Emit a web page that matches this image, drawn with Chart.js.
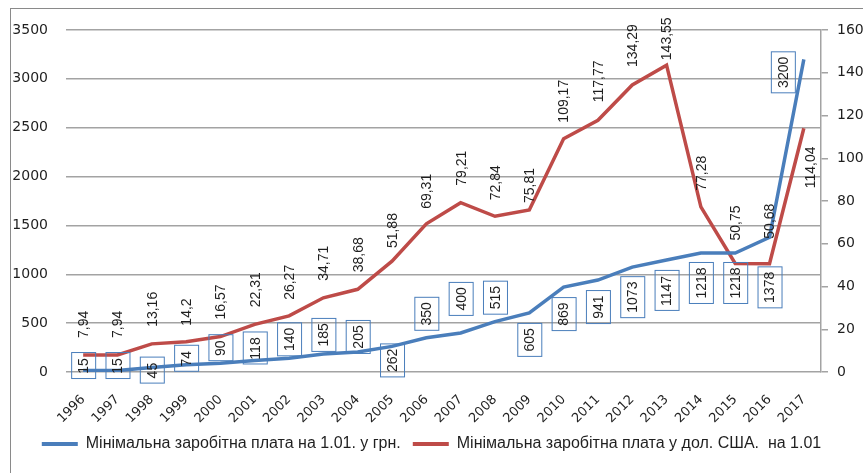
<!DOCTYPE html>
<html>
<head>
<meta charset="utf-8">
<script src="https://cdn.jsdelivr.net/npm/chart.js@4/dist/chart.umd.min.js"></script>
<style>
html,body{margin:0;padding:0;background:#fff;overflow:hidden}
#wrap{width:863px;height:473px;position:relative}
</style>
</head>
<body>
<div id="wrap"><canvas id="c" width="863" height="473"></canvas></div>
<script>
// ---- data ----
const years = ['1996','1997','1998','1999','2000','2001','2002','2003','2004','2005','2006','2007','2008','2009','2010','2011','2012','2013','2014','2015','2016','2017'];
const wageUAH = [15,15,45,74,90,118,140,185,205,262,350,400,515,605,869,941,1073,1147,1218,1218,1378,3200];
const wageUSD = [7.94,7.94,13.16,14.2,16.57,22.31,26.27,34.71,38.68,51.88,69.31,79.21,72.84,75.81,109.17,117.77,134.29,143.55,77.28,50.75,50.68,114.04];
const seriesNames = ['Мінімальна заробітна плата на 1.01. у грн.', 'Мінімальна заробітна плата у дол. США.  на 1.01'];
const leftAxisMax = 3500, leftAxisStep = 500;
const rightAxisMax = 160, rightAxisStep = 20;

const BLUE = '#4A7EBB', RED = '#BE4B48', GRID = '#a3a3a3', TEXT = '#1f1f1f';

const framePlugin = {
  id: 'frame',
  beforeDraw(chart) {
    const ctx = chart.ctx;
    ctx.save();
    ctx.fillStyle = '#fff';
    ctx.fillRect(0, 0, chart.width, chart.height);
    ctx.strokeStyle = '#8a8a8a';
    ctx.lineWidth = 1;
    ctx.strokeRect(10.5, 8.5, 1000, 1000);
    ctx.restore();
  }
};

const labelPlugin = {
  id: 'valueLabels',
  afterDatasetsDraw(chart, args, opts) {
    const ctx = chart.ctx;
    ctx.save();
    ctx.font = '14px "Liberation Sans", Arial, sans-serif';
    ctx.textBaseline = 'middle';
    const mb = chart.getDatasetMeta(0);
    mb.data.forEach((pt, i) => {
      const txt = String(wageUAH[i]);
      const w = ctx.measureText(txt).width;
      const cx = pt.x + opts.blueDx[i], cy = pt.y + opts.blueDy[i];
      ctx.save();
      ctx.translate(cx, cy);
      ctx.rotate(-Math.PI / 2);
      const bw = w + 10, bh = 24;
      ctx.strokeStyle = BLUE;
      ctx.lineWidth = 1;
      ctx.strokeRect(Math.round(-bw / 2) + 0.5, Math.round(-bh / 2) + 0.5, Math.round(bw), bh);
      ctx.fillStyle = TEXT;
      ctx.textAlign = 'center';
      ctx.fillText(txt, 0, 1);
      ctx.restore();
    });
    const mr = chart.getDatasetMeta(1);
    mr.data.forEach((pt, i) => {
      const txt = String(wageUSD[i]).replace('.', ',');
      ctx.save();
      ctx.translate(pt.x + opts.redDx[i], pt.y - opts.redGap[i]);
      ctx.rotate(-Math.PI / 2);
      ctx.fillStyle = TEXT;
      ctx.textAlign = 'left';
      ctx.fillText(txt, 0, 1);
      ctx.restore();
    });
    ctx.restore();
  }
};

new Chart(document.getElementById('c'), {
  type: 'line',
  data: {
    labels: years,
    datasets: [
      { label: seriesNames[0], data: wageUAH, yAxisID: 'y', borderColor: BLUE, backgroundColor: BLUE, borderWidth: 3.5, pointRadius: 0, tension: 0 },
      { label: seriesNames[1], data: wageUSD, yAxisID: 'y1', borderColor: RED, backgroundColor: RED, borderWidth: 3.5, pointRadius: 0, tension: 0 }
    ]
  },
  options: {
    responsive: false,
    animation: false,
    layout: { padding: { top: 30, left: 0, right: 0, bottom: 11 } },
    plugins: {
      tooltip: { enabled: false },
      legend: {
        position: 'bottom',
        labels: {
          boxWidth: 36, boxHeight: 4, padding: 12, color: TEXT,
          font: { family: '"Liberation Sans", Arial, sans-serif', size: 16 },
          generateLabels(chart) {
            return chart.data.datasets.map((d, i) => ({ text: d.label, fillStyle: d.borderColor, strokeStyle: d.borderColor, lineWidth: 0, hidden: false, datasetIndex: i, fontColor: TEXT }));
          }
        }
      },
      valueLabels: {
        blueDy: [-4.5,-4.5,3,-6,-15,-12,-19,-19,-15,14,-24,-34,-24,27,27,27,30,31,30,30,50,13],
        blueDx: [0,0,0,0,0,0,0,0,0,0,0,0,0,0,0,0,0,0,0,0,0,-21],
        redGap: [17,17,17,16,17,17,16,17,17,13,15,17,16,7,16,18,18,5,16,23,25,-60],
        redDx: [0,0,0,0,0,0,0,0,0,0,0,0,0,0,0,0,0,0,0,0,0,6]
      }
    },
    scales: {
      x: {
        offset: true,
        grid: { display: false, offset: true },
        border: { display: false },
        ticks: { minRotation: 45, maxRotation: 45, padding: 12, color: TEXT, font: { family: '"DejaVu Sans", Verdana, sans-serif', size: 13 } },
        afterFit(s) { s.height = 52; }
      },
      y: {
        position: 'left', min: 0, max: leftAxisMax,
        ticks: { stepSize: leftAxisStep, padding: 18, color: TEXT, font: { family: '"DejaVu Sans", Verdana, sans-serif', size: 14 }, callback: v => String(v) },
        grid: { color: GRID, lineWidth: 1.5, drawTicks: false },
        border: { display: false },
        afterFit(s) { s.width = 66; }
      },
      y1: {
        position: 'right', min: 0, max: rightAxisMax,
        ticks: { stepSize: rightAxisStep, padding: 9, color: TEXT, font: { family: '"DejaVu Sans", Verdana, sans-serif', size: 14 }, callback: v => String(v) },
        grid: { drawOnChartArea: false, tickLength: 7, color: GRID, lineWidth: 1.5 },
        border: { display: true, color: GRID, width: 1.5 },
        afterFit(s) { s.width = 42; }
      }
    }
  },
  plugins: [framePlugin, labelPlugin]
});
</script>
</body>
</html>
